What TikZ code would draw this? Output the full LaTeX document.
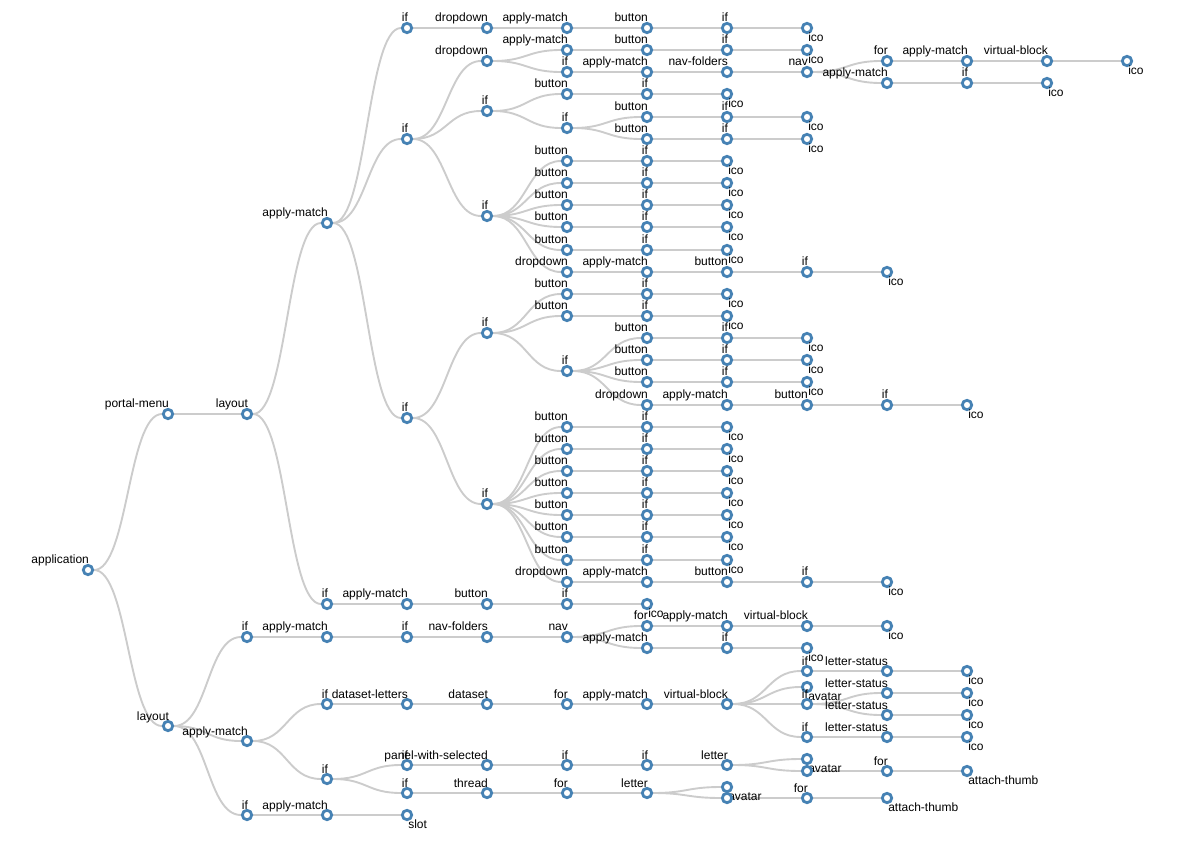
\documentclass[tikz,border=0pt]{standalone}
\usepackage{fontspec}
\setmainfont{Liberation Sans}
\usetikzlibrary{backgrounds}
\definecolor{steel}{RGB}{70,130,180}
\definecolor{linkgray}{RGB}{204,204,204}

\begin{document}
\begin{tikzpicture}[x=1pt,y=-1pt,
    nd/.style={circle,draw=steel,fill=white,line width=2.8pt,inner sep=0pt,minimum size=9.4pt},
    lbl/.style={font=\fontsize{12}{14}\selectfont,inner sep=0pt,text=black},
    inode/.style={nd,label={[lbl,anchor=base east]80:#1}},
    lnode/.style={nd,label={[lbl,anchor=base west,yshift=-7.5pt]-80:#1}},
    ln/.style={draw=linkgray,line width=1.9pt,
      to path={.. controls +(40,0) and +(-40,0) .. (\tikztotarget) \tikztonodes}}]
  \useasboundingbox (0,0) rectangle (1179,849);

  \node[inode=application] (app) at (88,570) {};
  \node[inode=portal-menu] (pmenu) at (168,414) {};
  \node[inode=layout] (layA) at (247,414) {};
  \node[inode=layout] (layB) at (168,726) {};
  \node[inode=apply-match] (am1) at (327,223) {};
  \node[inode=if] (if1) at (407,28) {};
  \node[inode=if] (if2) at (407,139) {};
  \node[inode=if] (if3) at (407,418) {};

  \node[inode=dropdown] (dd1) at (487,28) {};
  \node[inode=apply-match] (am2) at (567,28) {};
  \node[inode=button] (btn1) at (647,28) {};
  \node[inode=if] (if4) at (727,28) {};
  \node[lnode=ico] (ico1) at (807,28) {};
  \node[inode=dropdown] (dd2) at (487,61) {};
  \node[inode=apply-match] (am3) at (567,50) {};
  \node[inode=button] (btn2) at (647,50) {};
  \node[inode=if] (if5) at (727,50) {};
  \node[lnode=ico] (ico2) at (807,50) {};
  \node[inode=if] (if6) at (567,72) {};
  \node[inode=apply-match] (am4) at (647,72) {};
  \node[inode=nav-folders] (nf1) at (727,72) {};
  \node[inode=nav] (nav1) at (807,72) {};
  \node[inode=for] (for1) at (887,61) {};
  \node[inode=apply-match] (am5) at (967,61) {};
  \node[inode=virtual-block] (vb1) at (1047,61) {};
  \node[lnode=ico] (ico3) at (1127,61) {};
  \node[inode=apply-match] (am6) at (887,83) {};
  \node[inode=if] (if7) at (967,83) {};
  \node[lnode=ico] (ico4) at (1047,83) {};

  \node[inode=if] (if8) at (487,111) {};
  \node[inode=button] (btn3) at (567,94) {};
  \node[inode=if] (if9) at (647,94) {};
  \node[lnode=ico] (ico5) at (727,94) {};
  \node[inode=if] (if10) at (567,128) {};
  \node[inode=button] (btn4) at (647,117) {};
  \node[inode=if] (if11) at (727,117) {};
  \node[lnode=ico] (ico6) at (807,117) {};
  \node[inode=button] (btn5) at (647,139) {};
  \node[inode=if] (if12) at (727,139) {};
  \node[lnode=ico] (ico7) at (807,139) {};

  \node[inode=if] (if13) at (487,216) {};
  \node[inode=button] (btn6) at (567,161) {};
  \node[inode=if] (if14) at (647,161) {};
  \node[lnode=ico] (ico8) at (727,161) {};
  \node[inode=button] (btn7) at (567,183) {};
  \node[inode=if] (if15) at (647,183) {};
  \node[lnode=ico] (ico9) at (727,183) {};
  \node[inode=button] (btn8) at (567,205) {};
  \node[inode=if] (if16) at (647,205) {};
  \node[lnode=ico] (ico10) at (727,205) {};
  \node[inode=button] (btn9) at (567,227) {};
  \node[inode=if] (if17) at (647,227) {};
  \node[lnode=ico] (ico11) at (727,227) {};
  \node[inode=button] (btn10) at (567,250) {};
  \node[inode=if] (if18) at (647,250) {};
  \node[lnode=ico] (ico12) at (727,250) {};
  \node[inode=dropdown] (dd3) at (567,272) {};
  \node[inode=apply-match] (am7) at (647,272) {};
  \node[inode=button] (btn11) at (727,272) {};
  \node[inode=if] (if19) at (807,272) {};
  \node[lnode=ico] (ico13) at (887,272) {};

  \node[inode=if] (if20) at (487,333) {};
  \node[inode=button] (btn12) at (567,294) {};
  \node[inode=if] (if21) at (647,294) {};
  \node[lnode=ico] (ico14) at (727,294) {};
  \node[inode=button] (btn13) at (567,316) {};
  \node[inode=if] (if22) at (647,316) {};
  \node[lnode=ico] (ico15) at (727,316) {};
  \node[inode=if] (if23) at (567,371) {};
  \node[inode=button] (btn14) at (647,338) {};
  \node[inode=if] (if24) at (727,338) {};
  \node[lnode=ico] (ico16) at (807,338) {};
  \node[inode=button] (btn15) at (647,360) {};
  \node[inode=if] (if25) at (727,360) {};
  \node[lnode=ico] (ico17) at (807,360) {};
  \node[inode=button] (btn16) at (647,382) {};
  \node[inode=if] (if26) at (727,382) {};
  \node[lnode=ico] (ico18) at (807,382) {};
  \node[inode=dropdown] (dd4) at (647,405) {};
  \node[inode=apply-match] (am8) at (727,405) {};
  \node[inode=button] (btn17) at (807,405) {};
  \node[inode=if] (if27) at (887,405) {};
  \node[lnode=ico] (ico19) at (967,405) {};

  \node[inode=if] (if28) at (487,504) {};
  \node[inode=button] (btn18) at (567,427) {};
  \node[inode=if] (if29) at (647,427) {};
  \node[lnode=ico] (ico20) at (727,427) {};
  \node[inode=button] (btn19) at (567,449) {};
  \node[inode=if] (if30) at (647,449) {};
  \node[lnode=ico] (ico21) at (727,449) {};
  \node[inode=button] (btn20) at (567,471) {};
  \node[inode=if] (if31) at (647,471) {};
  \node[lnode=ico] (ico22) at (727,471) {};
  \node[inode=button] (btn21) at (567,493) {};
  \node[inode=if] (if32) at (647,493) {};
  \node[lnode=ico] (ico23) at (727,493) {};
  \node[inode=button] (btn22) at (567,515) {};
  \node[inode=if] (if33) at (647,515) {};
  \node[lnode=ico] (ico24) at (727,515) {};
  \node[inode=button] (btn23) at (567,537) {};
  \node[inode=if] (if34) at (647,537) {};
  \node[lnode=ico] (ico25) at (727,537) {};
  \node[inode=button] (btn24) at (567,560) {};
  \node[inode=if] (if35) at (647,560) {};
  \node[lnode=ico] (ico26) at (727,560) {};
  \node[inode=dropdown] (dd5) at (567,582) {};
  \node[inode=apply-match] (am9) at (647,582) {};
  \node[inode=button] (btn25) at (727,582) {};
  \node[inode=if] (if36) at (807,582) {};
  \node[lnode=ico] (ico27) at (887,582) {};

  \node[inode=if] (if37) at (327,604) {};
  \node[inode=apply-match] (am10) at (407,604) {};
  \node[inode=button] (btn26) at (487,604) {};
  \node[inode=if] (if38) at (567,604) {};
  \node[lnode=ico] (ico28) at (647,604) {};

  \node[inode=if] (if39) at (247,637) {};
  \node[inode=apply-match] (am11) at (327,637) {};
  \node[inode=if] (if40) at (407,637) {};
  \node[inode=nav-folders] (nf2) at (487,637) {};
  \node[inode=nav] (nav2) at (567,637) {};
  \node[inode=for] (for2) at (647,626) {};
  \node[inode=apply-match] (am12) at (727,626) {};
  \node[inode=virtual-block] (vb2) at (807,626) {};
  \node[lnode=ico] (ico29) at (887,626) {};
  \node[inode=apply-match] (am13) at (647,648) {};
  \node[inode=if] (if41) at (727,648) {};
  \node[lnode=ico] (ico30) at (807,648) {};

  \node[inode=apply-match] (am14) at (247,741) {};
  \node[inode=if] (if42) at (327,704) {};
  \node[inode=dataset-letters] (dsl) at (407,704) {};
  \node[inode=dataset] (ds) at (487,704) {};
  \node[inode=for] (for3) at (567,704) {};
  \node[inode=apply-match] (am15) at (647,704) {};
  \node[inode=virtual-block] (vb3) at (727,704) {};
  \node[inode=if] (if43) at (807,671) {};
  \node[inode=letter-status] (ls1) at (887,671) {};
  \node[lnode=ico] (ico31) at (967,671) {};
  \node[lnode=avatar] (av1) at (807,687) {};
  \node[inode=if] (if44) at (807,704) {};
  \node[inode=letter-status] (ls2) at (887,693) {};
  \node[lnode=ico] (ico32) at (967,693) {};
  \node[inode=letter-status] (ls3) at (887,715) {};
  \node[lnode=ico] (ico33) at (967,715) {};
  \node[inode=if] (if45) at (807,737) {};
  \node[inode=letter-status] (ls4) at (887,737) {};
  \node[lnode=ico] (ico34) at (967,737) {};

  \node[inode=if] (if46) at (327,779) {};
  \node[inode=if] (if47) at (407,765) {};
  \node[inode=panel-with-selected] (pws) at (487,765) {};
  \node[inode=if] (if48) at (567,765) {};
  \node[inode=if] (if49) at (647,765) {};
  \node[inode=letter] (let1) at (727,765) {};
  \node[lnode=avatar] (av2) at (807,759) {};
  \node[nd] (u1) at (807,771) {};
  \node[inode=for] (for4) at (887,771) {};
  \node[lnode=attach-thumb] (at1) at (967,771) {};
  \node[inode=if] (if50) at (407,793) {};
  \node[inode=thread] (thr) at (487,793) {};
  \node[inode=for] (for5) at (567,793) {};
  \node[inode=letter] (let2) at (647,793) {};
  \node[lnode=avatar] (av3) at (727,787) {};
  \node[nd] (u2) at (727,798) {};
  \node[inode=for] (for6) at (807,798) {};
  \node[lnode=attach-thumb] (at2) at (887,798) {};

  \node[inode=if] (if51) at (247,815) {};
  \node[inode=apply-match] (am16) at (327,815) {};
  \node[lnode=slot] (slot) at (407,815) {};

  \begin{scope}[on background layer]
  \draw[ln] (app) to (pmenu);
  \draw[ln] (app) to (layB);
  \draw[ln] (pmenu) to (layA);
  \draw[ln] (layA) to (am1);
  \draw[ln] (layA) to (if37);
  \draw[ln] (am1) to (if1);
  \draw[ln] (am1) to (if2);
  \draw[ln] (am1) to (if3);
  \draw[ln] (if1) to (dd1);
  \draw[ln] (dd1) to (am2);
  \draw[ln] (am2) to (btn1);
  \draw[ln] (btn1) to (if4);
  \draw[ln] (if4) to (ico1);
  \draw[ln] (if2) to (dd2);
  \draw[ln] (if2) to (if8);
  \draw[ln] (if2) to (if13);
  \draw[ln] (dd2) to (am3);
  \draw[ln] (dd2) to (if6);
  \draw[ln] (am3) to (btn2);
  \draw[ln] (btn2) to (if5);
  \draw[ln] (if5) to (ico2);
  \draw[ln] (if6) to (am4);
  \draw[ln] (am4) to (nf1);
  \draw[ln] (nf1) to (nav1);
  \draw[ln] (nav1) to (for1);
  \draw[ln] (nav1) to (am6);
  \draw[ln] (for1) to (am5);
  \draw[ln] (am5) to (vb1);
  \draw[ln] (vb1) to (ico3);
  \draw[ln] (am6) to (if7);
  \draw[ln] (if7) to (ico4);
  \draw[ln] (if8) to (btn3);
  \draw[ln] (if8) to (if10);
  \draw[ln] (btn3) to (if9);
  \draw[ln] (if9) to (ico5);
  \draw[ln] (if10) to (btn4);
  \draw[ln] (if10) to (btn5);
  \draw[ln] (btn4) to (if11);
  \draw[ln] (if11) to (ico6);
  \draw[ln] (btn5) to (if12);
  \draw[ln] (if12) to (ico7);
  \draw[ln] (if13) to (btn6);
  \draw[ln] (if13) to (btn7);
  \draw[ln] (if13) to (btn8);
  \draw[ln] (if13) to (btn9);
  \draw[ln] (if13) to (btn10);
  \draw[ln] (if13) to (dd3);
  \draw[ln] (btn6) to (if14);
  \draw[ln] (if14) to (ico8);
  \draw[ln] (btn7) to (if15);
  \draw[ln] (if15) to (ico9);
  \draw[ln] (btn8) to (if16);
  \draw[ln] (if16) to (ico10);
  \draw[ln] (btn9) to (if17);
  \draw[ln] (if17) to (ico11);
  \draw[ln] (btn10) to (if18);
  \draw[ln] (if18) to (ico12);
  \draw[ln] (dd3) to (am7);
  \draw[ln] (am7) to (btn11);
  \draw[ln] (btn11) to (if19);
  \draw[ln] (if19) to (ico13);
  \draw[ln] (if3) to (if20);
  \draw[ln] (if3) to (if28);
  \draw[ln] (if20) to (btn12);
  \draw[ln] (if20) to (btn13);
  \draw[ln] (if20) to (if23);
  \draw[ln] (btn12) to (if21);
  \draw[ln] (if21) to (ico14);
  \draw[ln] (btn13) to (if22);
  \draw[ln] (if22) to (ico15);
  \draw[ln] (if23) to (btn14);
  \draw[ln] (if23) to (btn15);
  \draw[ln] (if23) to (btn16);
  \draw[ln] (if23) to (dd4);
  \draw[ln] (btn14) to (if24);
  \draw[ln] (if24) to (ico16);
  \draw[ln] (btn15) to (if25);
  \draw[ln] (if25) to (ico17);
  \draw[ln] (btn16) to (if26);
  \draw[ln] (if26) to (ico18);
  \draw[ln] (dd4) to (am8);
  \draw[ln] (am8) to (btn17);
  \draw[ln] (btn17) to (if27);
  \draw[ln] (if27) to (ico19);
  \draw[ln] (if28) to (btn18);
  \draw[ln] (if28) to (btn19);
  \draw[ln] (if28) to (btn20);
  \draw[ln] (if28) to (btn21);
  \draw[ln] (if28) to (btn22);
  \draw[ln] (if28) to (btn23);
  \draw[ln] (if28) to (btn24);
  \draw[ln] (if28) to (dd5);
  \draw[ln] (btn18) to (if29);
  \draw[ln] (if29) to (ico20);
  \draw[ln] (btn19) to (if30);
  \draw[ln] (if30) to (ico21);
  \draw[ln] (btn20) to (if31);
  \draw[ln] (if31) to (ico22);
  \draw[ln] (btn21) to (if32);
  \draw[ln] (if32) to (ico23);
  \draw[ln] (btn22) to (if33);
  \draw[ln] (if33) to (ico24);
  \draw[ln] (btn23) to (if34);
  \draw[ln] (if34) to (ico25);
  \draw[ln] (btn24) to (if35);
  \draw[ln] (if35) to (ico26);
  \draw[ln] (dd5) to (am9);
  \draw[ln] (am9) to (btn25);
  \draw[ln] (btn25) to (if36);
  \draw[ln] (if36) to (ico27);
  \draw[ln] (if37) to (am10);
  \draw[ln] (am10) to (btn26);
  \draw[ln] (btn26) to (if38);
  \draw[ln] (if38) to (ico28);
  \draw[ln] (layB) to (if39);
  \draw[ln] (layB) to (am14);
  \draw[ln] (layB) to (if51);
  \draw[ln] (if39) to (am11);
  \draw[ln] (am11) to (if40);
  \draw[ln] (if40) to (nf2);
  \draw[ln] (nf2) to (nav2);
  \draw[ln] (nav2) to (for2);
  \draw[ln] (nav2) to (am13);
  \draw[ln] (for2) to (am12);
  \draw[ln] (am12) to (vb2);
  \draw[ln] (vb2) to (ico29);
  \draw[ln] (am13) to (if41);
  \draw[ln] (if41) to (ico30);
  \draw[ln] (am14) to (if42);
  \draw[ln] (am14) to (if46);
  \draw[ln] (if42) to (dsl);
  \draw[ln] (dsl) to (ds);
  \draw[ln] (ds) to (for3);
  \draw[ln] (for3) to (am15);
  \draw[ln] (am15) to (vb3);
  \draw[ln] (vb3) to (if43);
  \draw[ln] (vb3) to (av1);
  \draw[ln] (vb3) to (if44);
  \draw[ln] (vb3) to (if45);
  \draw[ln] (if43) to (ls1);
  \draw[ln] (ls1) to (ico31);
  \draw[ln] (if44) to (ls2);
  \draw[ln] (if44) to (ls3);
  \draw[ln] (ls2) to (ico32);
  \draw[ln] (ls3) to (ico33);
  \draw[ln] (if45) to (ls4);
  \draw[ln] (ls4) to (ico34);
  \draw[ln] (if46) to (if47);
  \draw[ln] (if46) to (if50);
  \draw[ln] (if47) to (pws);
  \draw[ln] (pws) to (if48);
  \draw[ln] (if48) to (if49);
  \draw[ln] (if49) to (let1);
  \draw[ln] (let1) to (av2);
  \draw[ln] (let1) to (u1);
  \draw[ln] (u1) to (for4);
  \draw[ln] (for4) to (at1);
  \draw[ln] (if50) to (thr);
  \draw[ln] (thr) to (for5);
  \draw[ln] (for5) to (let2);
  \draw[ln] (let2) to (av3);
  \draw[ln] (let2) to (u2);
  \draw[ln] (u2) to (for6);
  \draw[ln] (for6) to (at2);
  \draw[ln] (if51) to (am16);
  \draw[ln] (am16) to (slot);
  \end{scope}
\end{tikzpicture}
\end{document}
